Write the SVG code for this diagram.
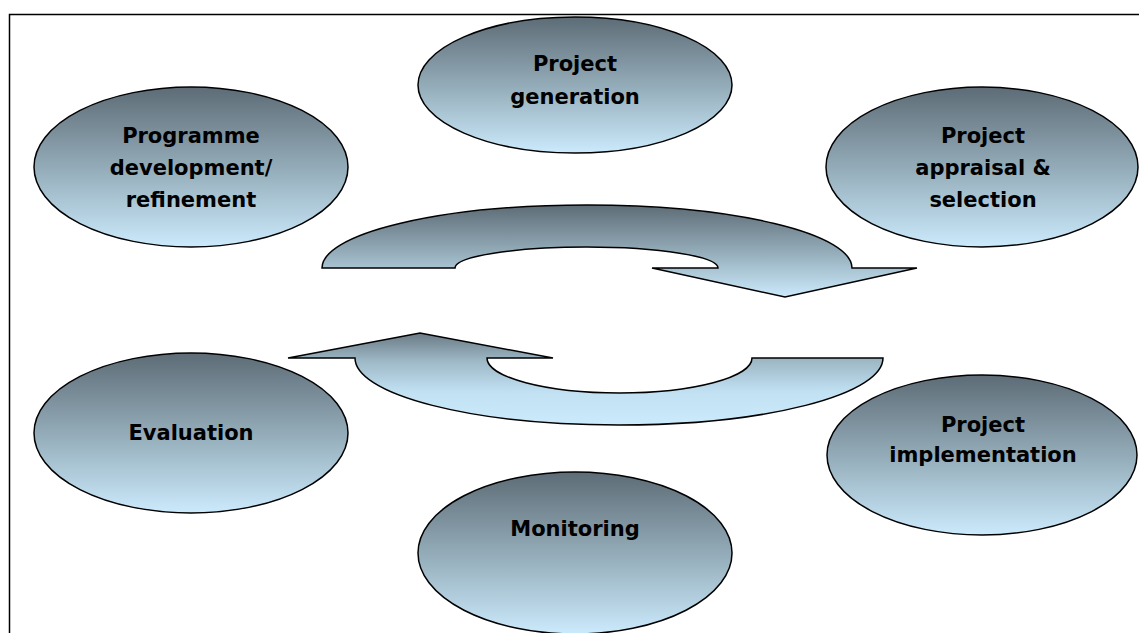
<svg xmlns="http://www.w3.org/2000/svg" width="1139" height="633" viewBox="0 0 1139 633">
<defs>
<linearGradient id="g" x1="0" y1="0" x2="0" y2="1">
<stop offset="0" stop-color="#5d6c76"/>
<stop offset="0.5" stop-color="#93abb8"/>
<stop offset="1" stop-color="#cbeafc"/>
</linearGradient>
<linearGradient id="g2" x1="0" y1="0" x2="0" y2="1">
<stop offset="0" stop-color="#6a7a85"/>
<stop offset="0.3" stop-color="#9db7c5"/>
<stop offset="0.65" stop-color="#c2e2f4"/>
<stop offset="1" stop-color="#cbeafc"/>
</linearGradient>
<style>
.n{fill:url(#g);stroke:#000;stroke-width:1.5}
.a{fill:url(#g);stroke:#000;stroke-width:1.5;stroke-linejoin:miter}
.b{fill:url(#g2)}
text{font-family:"DejaVu Sans","Liberation Sans",sans-serif;font-weight:bold;font-size:21px;fill:#000;text-anchor:middle}
</style>
</defs>
<rect x="9.5" y="14.5" width="1140" height="630" fill="#fff" stroke="#000" stroke-width="1.5"/>
<g id="connectors">
<path class="a" d="M322,268 A265,63 0 0 1 852,268 L917,268 L785,297 L652,268 L718,268 A131.5,21 0 0 0 455,268 Z"/>
<path class="a b" d="M883,358 A264,67 0 0 1 355,358 L288,358 L420,333 L553,358 L487,358 A132.5,35 0 0 0 752,358 Z"/>
</g>
<g id="project-generation">
<ellipse class="n" cx="575" cy="85" rx="157" ry="68"/>
<text x="575" y="71">Project</text>
<text x="575" y="104">generation</text>
</g>
<g id="programme-development">
<ellipse class="n" cx="191" cy="167" rx="157" ry="80"/>
<text x="191" y="143">Programme</text>
<text x="191" y="175">development/</text>
<text x="191" y="207">refinement</text>
</g>
<g id="project-appraisal">
<ellipse class="n" cx="982" cy="167" rx="156" ry="80"/>
<text x="983" y="143">Project</text>
<text x="983" y="175">appraisal &amp;</text>
<text x="983" y="207">selection</text>
</g>
<g id="evaluation">
<ellipse class="n" cx="191" cy="433" rx="157" ry="80"/>
<text x="191" y="440">Evaluation</text>
</g>
<g id="project-implementation">
<ellipse class="n" cx="982" cy="455" rx="155" ry="80"/>
<text x="983" y="432">Project</text>
<text x="983" y="462">implementation</text>
</g>
<g id="monitoring">
<ellipse class="n" cx="575" cy="553" rx="157" ry="81"/>
<text x="575" y="536">Monitoring</text>
</g>
</svg>
